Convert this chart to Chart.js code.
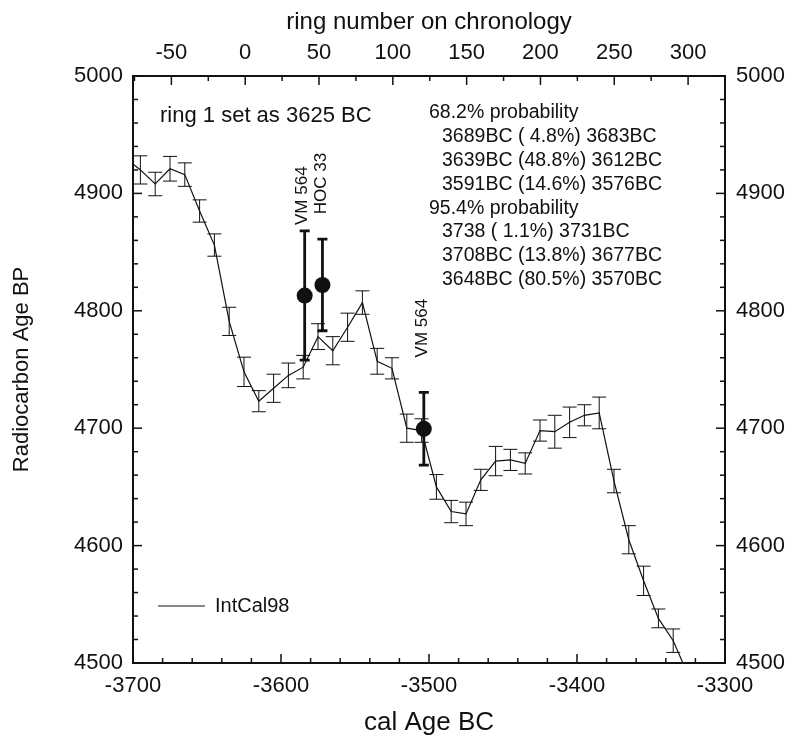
<!DOCTYPE html>
<html><head><meta charset="utf-8">
<script src="https://cdn.jsdelivr.net/npm/chart.js@4.4.1/dist/chart.umd.min.js"></script>
<style>html,body{margin:0;padding:0;background:#fff}#wrap{width:793px;height:744px}canvas{display:block}</style>
</head><body>
<div id="wrap"><canvas id="c" width="793" height="744"></canvas></div>
<script>
// ---- data ----
const calYears = [-3705,-3695,-3685,-3675,-3665,-3655,-3645,-3635,-3625,-3615,-3605,-3595,-3585,-3575,-3565,-3555,-3545,-3535,-3525,-3515,-3505,-3495,-3485,-3475,-3465,-3455,-3445,-3435,-3425,-3415,-3405,-3395,-3385,-3375,-3365,-3355,-3345,-3335,-3325];
const intcalAge = [4930,4920,4908,4921,4916,4885,4856,4791,4748,4723,4734,4745,4752,4778,4766,4786,4807,4757,4751,4700,4698,4650,4629,4627,4656,4672,4673,4670,4698,4697,4705,4711,4713,4655,4605,4570,4538,4519,4490];
const intcalErr = [12,12,10,10.5,10,9.5,9.5,12,12.5,9,12,10.5,10,11,12,12,10,11,9,12,10,10.5,9.5,10,9,12.5,9,9,9,14,13,9,13.5,10,12,12.5,8,10,10];
const sampleNames = ['VM 564','HOC 33','VM 564'];
const sampleYears = [-3584,-3572,-3503.5];
const sampleAges = [4813,4822,4699.5];
const sampleErrs = [55,39,31];
const calTicks = [-3700,-3600,-3500,-3400,-3300];
const ringTicks = [-50,0,50,100,150,200,250,300];
const ageTicks = [4500,4600,4700,4800,4900,5000];
const noteText = 'ring 1 set as 3625 BC';
const probLines = ['68.2% probability','3689BC ( 4.8%) 3683BC','3639BC (48.8%) 3612BC','3591BC (14.6%) 3576BC','95.4% probability','3738 ( 1.1%) 3731BC','3708BC (13.8%) 3677BC','3648BC (80.5%) 3570BC'];
const seriesName = 'IntCal98';

// ---- drawing ----
const FONT = '"Liberation Sans", Arial, Helvetica, sans-serif';
const INK = '#111111';

const overlay = {
  id: 'overlay',
  beforeDatasetsDraw(chart) {
    const ctx = chart.ctx, ca = chart.chartArea;
    const xs = chart.scales.x, ys = chart.scales.y;
    ctx.save();
    ctx.beginPath(); ctx.rect(ca.left, ca.top, ca.right - ca.left, ca.bottom - ca.top); ctx.clip();
    ctx.strokeStyle = INK; ctx.lineWidth = 1;
    calYears.forEach((yr, i) => {
      const px = xs.getPixelForValue(yr);
      const t = ys.getPixelForValue(intcalAge[i] + intcalErr[i]);
      const b = ys.getPixelForValue(intcalAge[i] - intcalErr[i]);
      ctx.beginPath();
      ctx.moveTo(px, t); ctx.lineTo(px, b);
      ctx.moveTo(px - 7, t); ctx.lineTo(px + 7, t);
      ctx.moveTo(px - 7, b); ctx.lineTo(px + 7, b);
      ctx.stroke();
    });
    ctx.lineWidth = 2.8;
    sampleYears.forEach((yr, i) => {
      const px = xs.getPixelForValue(yr);
      const t = ys.getPixelForValue(sampleAges[i] + sampleErrs[i]);
      const b = ys.getPixelForValue(sampleAges[i] - sampleErrs[i]);
      ctx.beginPath();
      ctx.moveTo(px, t); ctx.lineTo(px, b);
      ctx.moveTo(px - 5, t); ctx.lineTo(px + 5, t);
      ctx.moveTo(px - 5, b); ctx.lineTo(px + 5, b);
      ctx.stroke();
    });
    ctx.restore();
  },
  afterDraw(chart) {
    const ctx = chart.ctx, ca = chart.chartArea;
    const xs = chart.scales.x, xt = chart.scales.xTop, ys = chart.scales.y, y2 = chart.scales.y2;
    ctx.save();
    ctx.strokeStyle = INK; ctx.lineWidth = 1.5;
    const tick = (scale, step, majors, side) => {
      for (let v = Math.ceil(scale.min / step) * step; v <= scale.max + 1e-9; v += step) {
        const major = majors.includes(v);
        const len = major ? 9 : 5;
        const p = scale.getPixelForValue(v);
        ctx.beginPath();
        if (side === 'bottom') { ctx.moveTo(p, ca.bottom); ctx.lineTo(p, ca.bottom - len); }
        if (side === 'top') { ctx.moveTo(p, ca.top); ctx.lineTo(p, ca.top + len); }
        if (side === 'left') { ctx.moveTo(ca.left, p); ctx.lineTo(ca.left + len, p); }
        if (side === 'right') { ctx.moveTo(ca.right, p); ctx.lineTo(ca.right - len, p); }
        ctx.stroke();
      }
    };
    tick(xs, 20, calTicks, 'bottom');
    tick(xt, 25, ringTicks, 'top');
    tick(ys, 20, ageTicks, 'left');
    tick(y2, 20, ageTicks, 'right');

    ctx.fillStyle = INK;
    ctx.textBaseline = 'middle'; ctx.textAlign = 'left';
    ctx.font = '22px ' + FONT;
    ctx.fillText(noteText, ca.left + 27, ca.top + 40);
    ctx.font = '19.5px ' + FONT;
    probLines.forEach((s, i) => {
      const indent = s.indexOf('probability') >= 0 ? 0 : 13;
      ctx.fillText(s, ca.left + 296 + indent, ca.top + 37 + i * 23.8);
    });
    // sample labels (vertical)
    const labelGap = [6, 25, 35];
    const labelDx = [-2, -1, -2];
    ctx.font = '17px ' + FONT;
    sampleNames.forEach((s, i) => {
      const px = xs.getPixelForValue(sampleYears[i]) + labelDx[i];
      const py = ys.getPixelForValue(sampleAges[i] + sampleErrs[i]) - labelGap[i];
      ctx.save();
      ctx.translate(px, py); ctx.rotate(-Math.PI / 2);
      ctx.textAlign = 'left'; ctx.textBaseline = 'middle';
      ctx.fillText(s, 0, 0);
      ctx.restore();
    });
    // legend
    ctx.lineWidth = 1.2;
    ctx.beginPath(); ctx.moveTo(ca.left + 25, ca.bottom - 57); ctx.lineTo(ca.left + 72, ca.bottom - 57); ctx.stroke();
    ctx.font = '20px ' + FONT;
    ctx.fillText(seriesName, ca.left + 82, ca.bottom - 57);
    ctx.restore();
  }
};

const tickFont = { family: FONT, size: 22 };
const setTicks = arr => scale => { scale.ticks = arr.map(v => ({ value: v })); };

new Chart(document.getElementById('c'), {
  type: 'line',
  data: {
    datasets: [
      {
        label: seriesName,
        data: calYears.map((x, i) => ({ x, y: intcalAge[i] })),
        borderColor: INK, borderWidth: 1.2, pointRadius: 0, tension: 0, fill: false
      },
      {
        label: 'samples',
        data: sampleYears.map((x, i) => ({ x, y: sampleAges[i] })),
        showLine: false, pointRadius: 8, pointHoverRadius: 8,
        pointBackgroundColor: INK, pointBorderColor: INK, borderWidth: 0
      }
    ]
  },
  options: {
    responsive: false, animation: false, devicePixelRatio: 1,
    layout: { padding: 0 },
    plugins: { legend: { display: false }, tooltip: { enabled: false } },
    scales: {
      x: {
        type: 'linear', position: 'bottom', min: -3700, max: -3300,
        afterBuildTicks: setTicks(calTicks),
        afterFit: s => { s.height = 81; },
        grid: { display: false, drawTicks: false },
        border: { display: true, color: INK, width: 2 },
        ticks: { font: tickFont, color: INK, padding: 10, maxRotation: 0, callback: v => String(v) },
        title: { display: true, text: 'cal Age BC', font: { family: FONT, size: 26 }, color: INK, padding: { top: 0, bottom: 6 } }
      },
      xTop: {
        type: 'linear', position: 'top', min: -76, max: 325,
        afterBuildTicks: setTicks(ringTicks),
        afterFit: s => { s.height = 76; },
        grid: { display: false, drawTicks: false },
        border: { display: true, color: INK, width: 2 },
        ticks: { font: tickFont, color: INK, padding: 10, maxRotation: 0, callback: v => String(v) },
        title: { display: true, text: 'ring number on chronology', font: { family: FONT, size: 24 }, color: INK, padding: { top: 8, bottom: 0 } }
      },
      y: {
        type: 'linear', position: 'left', min: 4500, max: 5000,
        afterBuildTicks: setTicks(ageTicks),
        afterFit: s => { s.width = 133; },
        grid: { display: false, drawTicks: false },
        border: { display: true, color: INK, width: 2 },
        ticks: { font: tickFont, color: INK, padding: 10, callback: v => String(v) },
        title: { display: true, text: 'Radiocarbon Age BP', font: { family: FONT, size: 22 }, color: INK, padding: { top: 9, bottom: 0 } }
      },
      y2: {
        type: 'linear', position: 'right', min: 4500, max: 5000,
        afterBuildTicks: setTicks(ageTicks),
        afterFit: s => { s.width = 68; },
        grid: { display: false, drawTicks: false },
        border: { display: true, color: INK, width: 2 },
        ticks: { font: tickFont, color: INK, padding: 11, callback: v => String(v) }
      }
    }
  },
  plugins: [overlay]
});
</script>
</body></html>
